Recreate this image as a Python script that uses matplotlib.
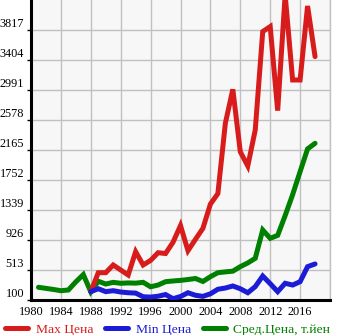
import matplotlib
matplotlib.use("Agg")
import matplotlib.pyplot as plt

plt.rcParams['font.family'] = ['Liberation Serif', 'DejaVu Serif']

# годы и цены (тыс. иен)
years_avg = list(range(1981, 2019))
avg_price = [275, 260, 245, 228, 238, 350, 450, 212, 358, 320, 343, 330, 335, 332, 343, 282,
             306, 352, 362, 370, 382, 396, 355, 421, 476, 487, 497, 559, 610, 674, 1064, 949,
             990, 1262, 1550, 1867, 2180, 2257]

years_mm = list(range(1988, 2019))
max_price = [215, 476, 476, 582, 513, 444, 765, 582, 645, 751, 740, 895, 1125, 779, 935, 1087,
             1420, 1565, 2533, 3000, 2140, 1945, 2441, 3795, 3864, 2707, 4300, 3129, 3129, 4148,
             3451]
min_price = [215, 255, 215, 228, 210, 200, 195, 145, 140, 152, 175, 118, 148, 200, 165, 150,
             185, 248, 265, 293, 255, 200, 284, 430, 325, 215, 330, 306, 352, 559, 596]

y_ticks = [100, 513, 926, 1339, 1752, 2165, 2578, 2991, 3404, 3817]
x_ticks = list(range(1980, 2021, 4))
x_labels = [str(y) if y < 2020 else '' for y in x_ticks]

RED = '#d81c1c'
BLUE = '#1c1cd6'
GREEN = '#008000'

fig = plt.figure(figsize=(3.45, 3.35), dpi=100)
ax = fig.add_axes([31 / 345, 35 / 335, 299 / 345, 300 / 335])
ax.set_facecolor('#f7f7f7')

lw = 3.6
ax.plot(years_avg, avg_price, color=GREEN, lw=lw, solid_capstyle='round', solid_joinstyle='miter', zorder=3)
ax.plot(years_mm, max_price, color=RED, lw=lw, solid_capstyle='round', solid_joinstyle='miter', zorder=4)
ax.plot(years_mm, min_price, color=BLUE, lw=lw, solid_capstyle='round', solid_joinstyle='miter', zorder=5)

ax.set_xlim(1980, 2020)
ax.set_ylim(100, 4230)
ax.set_xticks(x_ticks)
ax.set_xticklabels(x_labels)
ax.set_yticks(y_ticks)
ax.grid(True, color='#c0c0c0', lw=1)
ax.set_axisbelow(True)

ax.spines['top'].set_visible(False)
ax.spines['right'].set_color('#c0c0c0')
ax.spines['right'].set_linewidth(1)
ax.spines['left'].set_linewidth(2.2)
ax.spines['bottom'].set_linewidth(2.2)

ax.tick_params(axis='x', length=0, pad=4, labelsize=8.8, colors='black')
ax.tick_params(axis='y', length=3, width=1, pad=2, labelsize=8.8)
for lbl in ax.get_yticklabels():
    lbl.set_verticalalignment('bottom')

# легенда снизу
handles = [plt.Line2D([], [], color=c, lw=lw, solid_capstyle='round') for c in (RED, BLUE, GREEN)]
names = ['Max Цена', 'Min Цена', 'Сред.Цена, т.йен']
leg = fig.legend(handles, names, loc='lower left', bbox_to_anchor=(-0.012, -0.03), ncol=3,
                 frameon=False, fontsize=9.7, handlelength=1.7, handletextpad=0.55,
                 columnspacing=0.9, borderpad=0.2)
for txt, c in zip(leg.get_texts(), (RED, BLUE, GREEN)):
    txt.set_color(c)

fig.savefig('out.png', dpi=100)
